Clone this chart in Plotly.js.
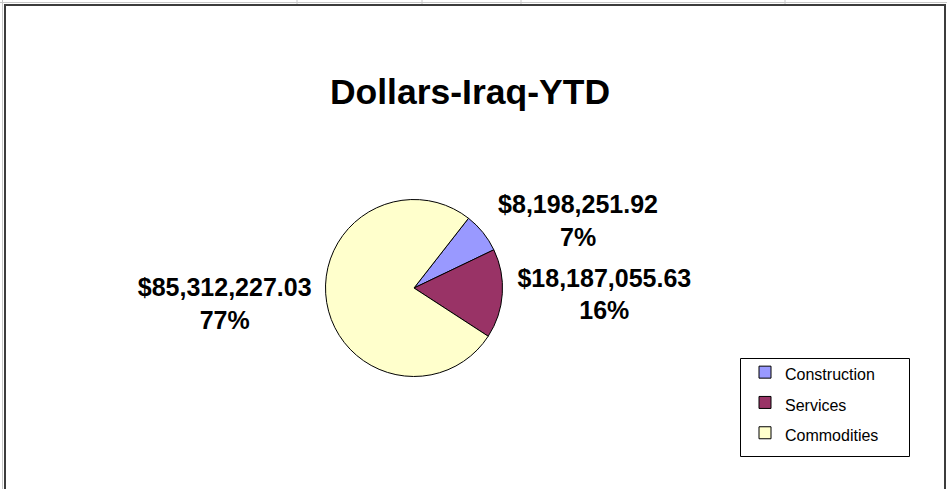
<!DOCTYPE html>
<html>
<head>
<meta charset="utf-8">
<script src="https://cdn.plot.ly/plotly-3.0.1.min.js"></script>
<style>
  html, body { margin: 0; padding: 0; background: #ffffff; }
  #chart { width: 947px; height: 489px; }
</style>
</head>
<body>
<div id="chart"></div>
<script>
// ---- data ----
const categories = ['Construction', 'Services', 'Commodities'];
const dollars = [8198251.92, 18187055.63, 85312227.03];
const percentLabels = ['7%', '16%', '77%'];
const sliceColors = ['#9999FF', '#993366', '#FFFFCC'];
const chartTitle = 'Dollars-Iraq-YTD';

// ---- layout helpers ----
const W = 947, H = 489;
const px = x => x / W;
const py = y => 1 - y / H;
const FONT = 'Liberation Sans, Arial, sans-serif';

// legend labels rendered at 16px while the legend row spacing uses a larger size
const legendLabels = categories.map(c => '<span style="font-size:16px">' + c + '</span>');

const pieCx = 414, pieCy = 288, pieR = 88.5;

const trace = {
  type: 'pie',
  labels: legendLabels,
  values: dollars,
  text: percentLabels,
  texttemplate: '%{value:$,.2f}<br>%{text}',
  textposition: 'outside',
  sort: false,
  direction: 'clockwise',
  rotation: 38,
  marker: { colors: sliceColors, line: { color: '#000000', width: 1 } },
  outsidetextfont: { family: FONT, size: 25, color: '#000000', weight: 'bold' },
  domain: { x: [px(pieCx - pieR), px(pieCx + pieR)], y: [py(pieCy + pieR), py(pieCy - pieR)] },
  hoverinfo: 'none'
};

const shapes = [
  // spreadsheet gridlines behind the chart object
  { type: 'line', xref: 'paper', yref: 'paper', x0: 0, x1: 1, y0: py(2.5), y1: py(2.5), line: { color: '#c8c8c8', width: 1 } },
  { type: 'line', xref: 'paper', yref: 'paper', x0: px(2.5), x1: px(2.5), y0: 0, y1: 1, line: { color: '#c8c8c8', width: 1 } },
  ...[297, 422, 521, 785].map(x => ({ type: 'line', xref: 'paper', yref: 'paper', x0: px(x), x1: px(x), y0: py(0), y1: py(4), line: { color: '#c8c8c8', width: 1 } })),
  // chart area border
  { type: 'rect', xref: 'paper', yref: 'paper', x0: px(5), x1: px(945), y0: -0.05, y1: py(5), line: { color: '#3c3c3c', width: 2 } },
  // legend box
  { type: 'rect', xref: 'paper', yref: 'paper', x0: px(740.5), x1: px(909.5), y0: py(456.5), y1: py(358.5), line: { color: '#000000', width: 1 } }
];

const layout = {
  width: W, height: H,
  margin: { l: 0, r: 0, t: 0, b: 0 },
  paper_bgcolor: '#ffffff',
  font: { family: FONT, color: '#000000' },
  title: {
    text: chartTitle,
    font: { family: FONT, size: 35.5, color: '#000000', weight: 'bold' },
    x: px(470), xanchor: 'center',
    y: py(92), yanchor: 'middle', yref: 'container'
  },
  showlegend: true,
  legend: {
    x: px(745), xanchor: 'left',
    y: py(352), yanchor: 'top',
    bgcolor: 'rgba(0,0,0,0)',
    borderwidth: 0,
    font: { family: FONT, size: 21, color: '#000000' }
  },
  shapes: shapes
};

Plotly.newPlot('chart', [trace], layout, { displayModeBar: false, staticPlot: true });
</script>
</body>
</html>
